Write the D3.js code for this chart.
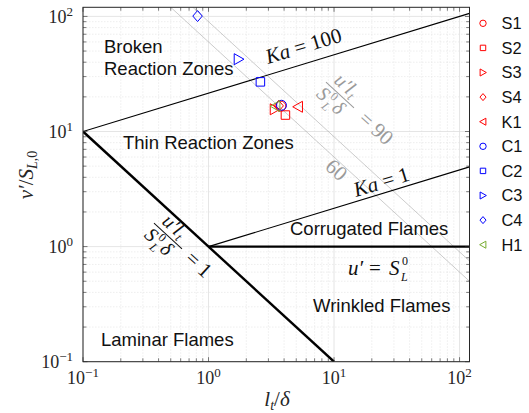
<!DOCTYPE html>
<html><head><meta charset="utf-8">
<script src="https://cdn.jsdelivr.net/npm/d3@7"></script>
<style>body{margin:0;background:#fff}svg{display:block}</style>
</head><body>
<script>
// Operating points: integral length scale l_t/δ and turbulence intensity v'/S_L,0
const caseNames = ["S1","S2","S3","S4","K1","C1","C2","C3","C4","H1"];
const caseLt    = [3.77, 4.10, 3.37, 3.62, 5.16, 3.81, 2.59, 1.74, 0.818, 3.41];
const caseU     = [16.6, 13.9, 15.6, 16.7, 16.4, 16.9, 27.0, 42.5, 100.7, 16.6];
const caseColor = ["#ff0000","#ff0000","#ff0000","#ff0000","#ff0000","#0000ff","#0000ff","#0000ff","#0000ff","#77ac30"];
const caseShape = ["circle","square","triRight","diamond","triLeft","circle","square","triRight","diamond","triLeft"];

// Regime boundaries as end points [l_t/δ, u'/S_L]
const lineKa100 = [[0.1, 10], [120, 106.3]];
const lineKa1   = [[1, 1], [120, 4.93]];
const lineUeqS  = [[1, 1], [120, 1]];
const lineRe1   = [[0.1, 10], [10, 0.1]];
const lineRe90  = [[0.75, 120], [120, 0.75]];
const lineRe60  = [[0.5, 120], [120, 0.5]];

const xDomain = [0.1, 120], yDomain = [0.1, 120];
const tickValues = [0.1, 1, 10, 100];
const tickExp = ["\u22121", "0", "1", "2"];

const W = 529, H = 413;
const m = {l: 83, r: 469.5, t: 7.3, b: 361.7};
const x = d3.scaleLog().domain(xDomain).range([m.l, m.r]);
const y = d3.scaleLog().domain(yDomain).range([m.b, m.t]);

const svg = d3.select("body").append("svg").attr("width", W).attr("height", H);
const serif = "'Liberation Serif', 'Times New Roman', serif";
const sans = "'Liberation Sans', Arial, Helvetica, sans-serif";

svg.append("defs").append("clipPath").attr("id", "plotclip")
  .append("rect").attr("x", m.l).attr("y", m.t).attr("width", m.r - m.l).attr("height", m.b - m.t);

// grid
const minor = [];
for (let e = -1; e <= 2; e++) for (let k = 2; k <= 9; k++) minor.push(k * Math.pow(10, e));
const xMinor = minor.filter(v => v > xDomain[0] && v < xDomain[1]);
const yMinor = minor.filter(v => v > yDomain[0] && v < yDomain[1]);
const grid = svg.append("g");
grid.selectAll(".gxm").data(xMinor).join("line")
  .attr("x1", d => x(d)).attr("x2", d => x(d)).attr("y1", m.t).attr("y2", m.b)
  .attr("stroke", "#e3e3e3").attr("stroke-width", 0.6).attr("stroke-dasharray", "1.5,1.5");
grid.selectAll(".gym").data(yMinor).join("line")
  .attr("y1", d => y(d)).attr("y2", d => y(d)).attr("x1", m.l).attr("x2", m.r)
  .attr("stroke", "#e3e3e3").attr("stroke-width", 0.6).attr("stroke-dasharray", "1.5,1.5");
grid.selectAll(".gx").data(tickValues).join("line")
  .attr("x1", d => x(d)).attr("x2", d => x(d)).attr("y1", m.t).attr("y2", m.b)
  .attr("stroke", "#dedede").attr("stroke-width", 0.8);
grid.selectAll(".gy").data(tickValues).join("line")
  .attr("y1", d => y(d)).attr("y2", d => y(d)).attr("x1", m.l).attr("x2", m.r)
  .attr("stroke", "#dedede").attr("stroke-width", 0.8);

// regime lines
const plot = svg.append("g").attr("clip-path", "url(#plotclip)");
const lineGen = d3.line().x(d => x(d[0])).y(d => y(d[1]));
function drawLine(pts, color, w) {
  plot.append("path").attr("d", lineGen(pts)).attr("fill", "none")
    .attr("stroke", color).attr("stroke-width", w);
}
drawLine(lineRe90, "#aaaaaa", 0.6);
drawLine(lineRe60, "#aaaaaa", 0.6);
drawLine(lineKa100, "#000", 1.1);
drawLine(lineKa1, "#000", 1.1);
drawLine(lineUeqS, "#000", 2.4);
drawLine(lineRe1, "#000", 2.4);

// axes frame and ticks (inside, on all sides)
const ax = svg.append("g");
const tk = 4.5;
function ticksX(vals, len) {
  vals.forEach(v => {
    ax.append("line").attr("x1", x(v)).attr("x2", x(v)).attr("y1", m.b).attr("y2", m.b - len).attr("stroke", "#262626").attr("stroke-width", 0.6);
    ax.append("line").attr("x1", x(v)).attr("x2", x(v)).attr("y1", m.t).attr("y2", m.t + len).attr("stroke", "#262626").attr("stroke-width", 0.6);
  });
}
function ticksY(vals, len) {
  vals.forEach(v => {
    ax.append("line").attr("y1", y(v)).attr("y2", y(v)).attr("x1", m.l).attr("x2", m.l + len).attr("stroke", "#262626").attr("stroke-width", 0.6);
    ax.append("line").attr("y1", y(v)).attr("y2", y(v)).attr("x1", m.r).attr("x2", m.r - len).attr("stroke", "#262626").attr("stroke-width", 0.6);
  });
}
ticksX(tickValues, tk); ticksX(xMinor, tk * 0.75);
ticksY(tickValues, tk); ticksY(yMinor, tk * 0.75);
ax.append("rect").attr("x", m.l).attr("y", m.t).attr("width", m.r - m.l).attr("height", m.b - m.t)
  .attr("fill", "none").attr("stroke", "#262626").attr("stroke-width", 1);

// tick labels 10^n
function powLabel(t, exp) {
  t.append("tspan").text("10");
  t.append("tspan").attr("dy", -7).attr("font-size", 13).text(exp);
}
tickValues.forEach((v, i) => {
  const t = svg.append("text").attr("x", x(v)).attr("y", 384).attr("text-anchor", "middle")
    .attr("font-family", serif).attr("font-size", 18).attr("fill", "#262626");
  powLabel(t, tickExp[i]);
  const ty = svg.append("text").attr("x", 73).attr("y", y(v) + 6.4).attr("text-anchor", "end")
    .attr("font-family", serif).attr("font-size", 18).attr("fill", "#262626");
  powLabel(ty, tickExp[i]);
});

// axis titles
const xt = svg.append("text").attr("x", 277).attr("y", 406).attr("text-anchor", "middle")
  .attr("font-family", serif).attr("font-size", 21).attr("fill", "#262626");
xt.append("tspan").attr("font-style", "italic").text("l");
xt.append("tspan").attr("font-style", "italic").attr("font-size", 14).attr("dy", 4).text("t");
xt.append("tspan").attr("dy", -4).text("/");
xt.append("tspan").attr("font-style", "italic").text("δ");

const yt = svg.append("text").attr("transform", "translate(33,175) rotate(-90)").attr("text-anchor", "middle")
  .attr("font-family", serif).attr("font-size", 21).attr("fill", "#262626");
yt.append("tspan").attr("font-style", "italic").text("v\u2032");
yt.append("tspan").text("/");
yt.append("tspan").attr("font-style", "italic").text("S");
yt.append("tspan").attr("font-style", "italic").attr("font-size", 14).attr("dy", 4).text("L");
yt.append("tspan").attr("font-size", 14).text(",0");

// regime names
const regimes = [
  ["Broken", 104, 53], ["Reaction Zones", 104, 75], ["Thin Reaction Zones", 123, 149],
  ["Corrugated Flames", 290, 235], ["Wrinkled Flames", 313, 312], ["Laminar Flames", 101, 346]
];
svg.selectAll(".reg").data(regimes).join("text")
  .attr("x", d => d[1]).attr("y", d => d[2]).attr("font-family", sans).attr("font-size", 18.5)
  .attr("fill", "#111").text(d => d[0]);

// Karlovitz labels along their lines
const slopeKa = -Math.atan((1 / 3) * (y(1) - y(10)) / (x(10) - x(1))) * 180 / Math.PI;
function kaLabel(px, py, val) {
  const t = svg.append("text").attr("transform", `translate(${px},${py}) rotate(${slopeKa})`)
    .attr("font-family", serif).attr("font-size", 21).attr("fill", "#111");
  t.append("tspan").attr("font-style", "italic").text("Ka");
  t.append("tspan").text(" = " + val);
}
kaLabel(268, 64, "100");
kaLabel(356, 197, "1");

// u' = S_L^0
const ug = svg.append("g").attr("transform", "translate(348,275)").attr("font-family", serif).attr("fill", "#111");
ug.append("text").attr("font-size", 21).attr("font-style", "italic").text("u\u2032");
ug.append("text").attr("x", 21).attr("font-size", 21).text("=");
ug.append("text").attr("x", 41).attr("font-size", 21).attr("font-style", "italic").text("S");
ug.append("text").attr("x", 54).attr("y", -10).attr("font-size", 12).text("0");
ug.append("text").attr("x", 53).attr("y", 6).attr("font-size", 12).attr("font-style", "italic").text("L");

// Reynolds-number labels u'l_t/(S_L^0 δ) = const
const slopeRe = Math.atan((y(1) - y(10)) / (x(10) - x(1))) * 180 / Math.PI;
function reLabel(cx, cy, color, rhs, gap) {
  const g = svg.append("g").attr("transform", `translate(${cx},${cy}) rotate(${slopeRe})`)
    .attr("font-family", serif).attr("fill", color);
  g.append("text").attr("x", -14).attr("y", -5).attr("font-size", 20).attr("font-style", "italic").text("u\u2032l");
  g.append("text").attr("x", 7).attr("y", -2).attr("font-size", 13).attr("font-style", "italic").text("t");
  g.append("line").attr("x1", -19).attr("x2", 19).attr("y1", 0).attr("y2", 0)
    .attr("stroke", color).attr("stroke-width", 1);
  g.append("text").attr("x", -18).attr("y", 17).attr("font-size", 20).attr("font-style", "italic").text("S");
  g.append("text").attr("x", -6).attr("y", 9).attr("font-size", 12).text("0");
  g.append("text").attr("x", -6).attr("y", 22).attr("font-size", 12).attr("font-style", "italic").text("L");
  g.append("text").attr("x", 3).attr("y", 17).attr("font-size", 20).attr("font-style", "italic").text("δ");
  g.append("text").attr("x", gap).attr("y", 7).attr("font-size", 21).text(rhs);
}
reLabel(168, 236, "#111", "= 1", 28);
reLabel(340, 95, "#9a9a9a", "= 90", 30);
svg.append("text").attr("transform", `translate(324,168) rotate(${slopeRe})`)
  .attr("font-family", serif).attr("font-size", 21).attr("fill", "#9a9a9a").text("60");

// markers
function shapePath(s, r) {
  switch (s) {
    case "circle": return d3.symbol(d3.symbolCircle, Math.PI * r * r)();
    case "square": return `M${-r * 0.85},${-r * 0.85}H${r * 0.85}V${r * 0.85}H${-r * 0.85}Z`;
    case "diamond": return `M0,${-r * 1.1}L${r * 0.95},0L0,${r * 1.1}L${-r * 0.95},0Z`;
    case "triRight": return `M${r * 1.05},0L${-r * 0.9},${-r * 1.1}L${-r * 0.9},${r * 1.1}Z`;
    case "triLeft": return `M${-r * 1.05},0L${r * 0.9},${-r * 1.1}L${r * 0.9},${r * 1.1}Z`;
  }
}
const idx = d3.range(caseNames.length);
svg.append("g").selectAll("path").data(idx).join("path")
  .attr("transform", i => `translate(${x(caseLt[i])},${y(caseU[i])})`)
  .attr("d", i => shapePath(caseShape[i], 5))
  .attr("fill", "none").attr("stroke", i => caseColor[i]).attr("stroke-width", 1);

// legend
const lg = svg.append("g");
idx.forEach(i => {
  const ly = 23.3 + i * 24.6;
  lg.append("path").attr("transform", `translate(483,${ly})`).attr("d", shapePath(caseShape[i], 3.2))
    .attr("fill", "none").attr("stroke", caseColor[i]).attr("stroke-width", 1);
  lg.append("text").attr("x", 501.5).attr("y", ly + 5.8).attr("font-family", sans)
    .attr("font-size", 16.4).attr("fill", "#111").text(caseNames[i]);
});
</script>
</body></html>
